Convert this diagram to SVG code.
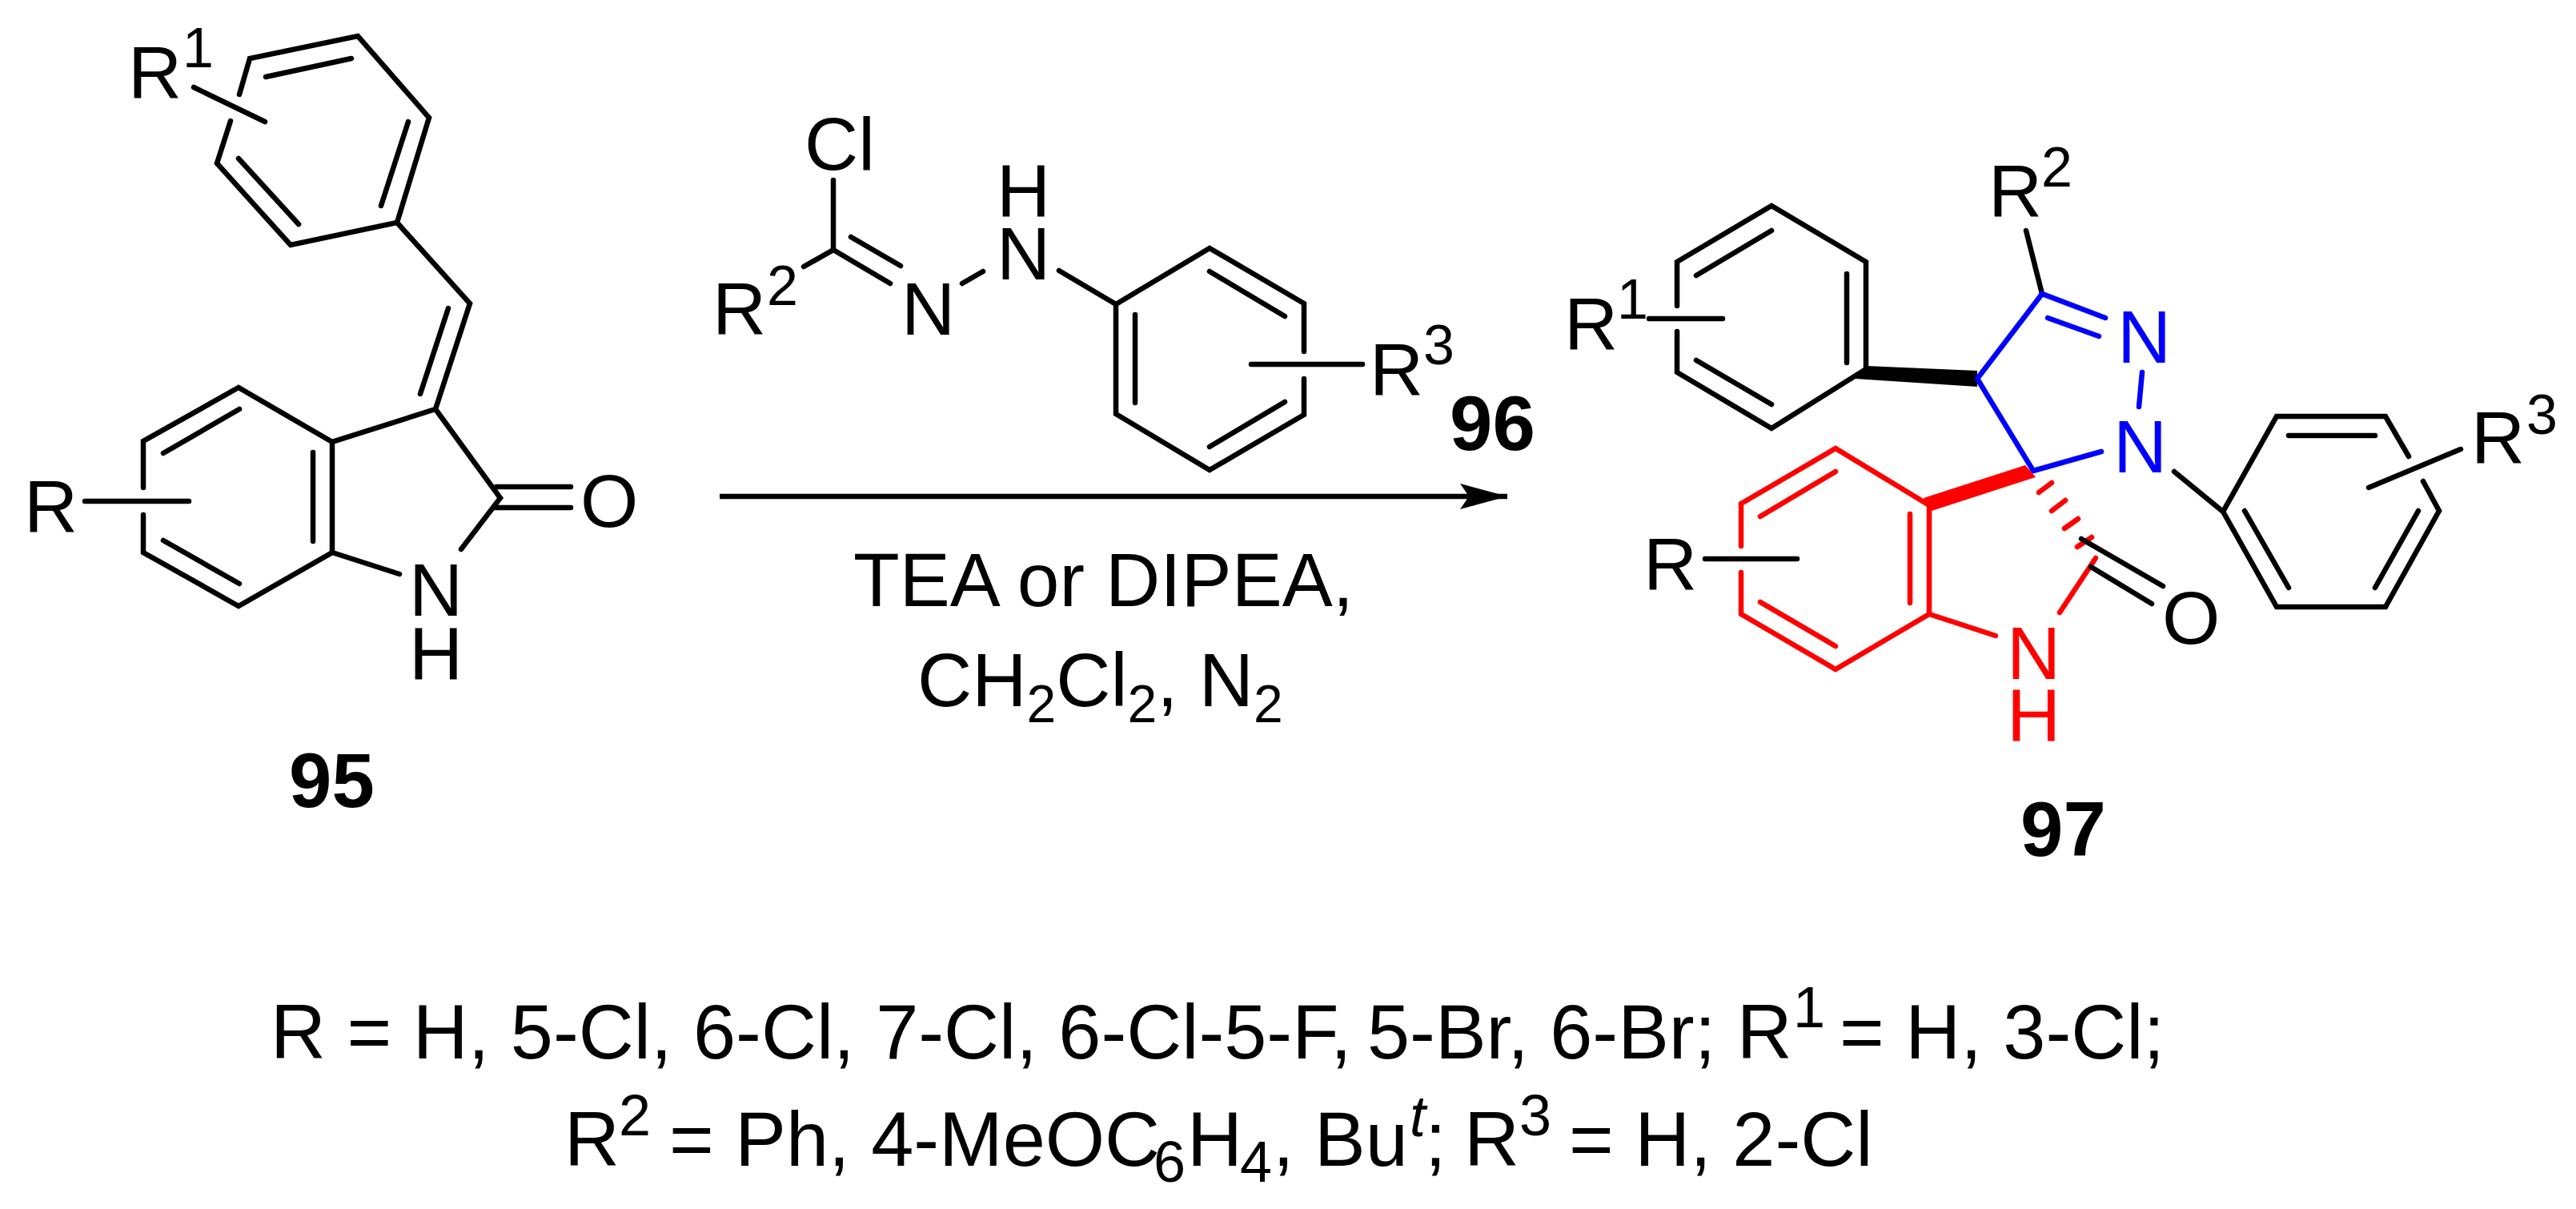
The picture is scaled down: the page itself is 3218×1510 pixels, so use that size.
<svg xmlns="http://www.w3.org/2000/svg" width="3218" height="1510" viewBox="0 0 3218 1510">
<style>
text{font-family:"Liberation Sans",Arial,sans-serif;font-size:93px;fill:#000}
.b{font-weight:bold;font-size:96px}
.s{font-size:70px}
.r{fill:#f00}.u{fill:#00f}
.l{font-size:95.5px}
.k{stroke:#000;stroke-width:6.5;fill:none;stroke-linecap:round;stroke-linejoin:miter}
.kr{stroke:#f00;stroke-width:6.5;fill:none;stroke-linecap:round}
.ku{stroke:#00f;stroke-width:6.5;fill:none;stroke-linecap:round}
</style>
<defs><marker id="ah" markerUnits="userSpaceOnUse" markerWidth="60" markerHeight="32" refX="59" refY="16" orient="auto"><path d="M0 0L59 16L0 32L11 16Z" fill="#000"/></marker></defs>
<rect width="3218" height="1510" fill="#fff"/>
<g id="connectors"><line x1="899" y1="620" x2="1883" y2="620" stroke="#000" stroke-width="6.5" marker-end="url(#ah)"/></g>
<g id="compound-95">
<path class="k" d="M299 118L312 73L447 45L536 147L496 278L363 306L271 204L288 151M332 96L439 73M510 152L476 257M373 280L298 198M242 109L331 152M496 278L587 379L544 511L415 552V690L298 757L179 690V643M179 609V551L298 484L415 552M525 492L560 385M204 566L299 511M391 565V676M204 675L299 729M544 511L625 622L576 686M415 690L499 717M106 626H236M620 608H713M619 634H713"/>
<text x="160" y="123">R</text><text class="s" x="228" y="84">1</text>
<text x="30" y="665">R</text><text x="725" y="658">O</text>
<text x="511" y="769">N</text><text x="511" y="849">H</text>
<text class="b" x="361" y="1008">95</text>
</g>
<g id="compound-96">
<path class="k" d="M1041 225V312L1004 333M1041 312L1112 354M1063 296L1125 332M1202 354L1228 339M1323 338L1394 380L1511 310L1629 379V439M1629 473V518L1511 587L1394 517V380M1511 339L1605 395M1418 393V503M1511 558L1605 502M1563 455H1702"/>
<text x="1005" y="212">Cl</text>
<text x="890" y="418">R</text><text class="s" x="958" y="381">2</text>
<text x="1126" y="418">N</text><text x="1245" y="349">N</text><text x="1245" y="271">H</text>
<text x="1711" y="494">R</text><text class="s" x="1778" y="455">3</text>
<text class="b" x="1811" y="562">96</text>
</g>
<g id="reagents">
<text x="1066" y="757" font-size="94.5" style="font-size:94.5px">TEA or DIPEA,</text>
<text x="1146" y="882" style="font-size:94.5px">CH<tspan style="font-size:66px" dy="20">2</tspan><tspan dy="-20">Cl</tspan><tspan style="font-size:66px" dy="20">2</tspan><tspan dy="-20">, N</tspan><tspan style="font-size:66px" dy="20">2</tspan></text>
</g>
<g id="compound-97">
<path class="k" d="M2095 382V327L2213 257L2331 327V461L2213 535L2095 465V414M2213 288L2119 344M2307 342V453M2213 505L2119 450M2060 398H2152"/>
<path d="M2317 473L2331 457L2470 463V483Z" fill="#000"/>
<path class="k" d="M2531 288L2551 367M2716 589L2777 639L2844 520H2980L3009 570M3027 601L3047 638L2980 758H2844L2777 639M2859 544H2967M3021 638L2967 734M2859 734L2804 638M2959 609L3074 561M2130 698H2245"/>
<path class="ku" d="M2470 473L2551 367L2630 397M2558 397L2622 420M2676 465L2672 508M2470 473L2540 588L2625 564"/>
<path class="kr" d="M2175 682V629L2293 560L2410 631V767L2293 836L2175 767V715M2293 589L2199 645M2386 642V753M2293 807L2199 752M2410 767L2493 794M2618 697L2573 765M2547 615L2563 603M2563 638L2580 625M2579 660L2596 648M2595 683L2613 671"/>
<path d="M2403 622L2410 639L2543 596L2530 581Z" fill="#f00"/>
<path class="k" d="M2600 673L2702 732M2612 708L2688 754"/>
<text x="1954" y="437">R</text><text class="s" x="2020" y="398">1</text>
<text x="2484" y="271">R</text><text class="s" x="2550" y="233">2</text>
<text class="u" x="2645" y="453">N</text><text class="u" x="2640" y="590">N</text>
<text x="3087" y="579">R</text><text class="s" x="3156" y="542">3</text>
<text x="2053" y="737">R</text>
<text x="2701" y="804">O</text>
<text class="r" x="2507" y="848">N</text><text class="r" x="2507" y="926">H</text>
<text class="b" x="2524" y="1069">97</text>
</g>
<g id="legend">
<text class="l" y="1322"><tspan x="338">R = H, 5-Cl, 6-Cl, 7-Cl, 6-Cl-5-F,</tspan><tspan x="1708">5-Br, 6-Br; R</tspan><tspan x="2240" y="1283" style="font-size:72px">1</tspan><tspan x="2298" y="1322">= H, 3-Cl;</tspan></text>
<text class="l" y="1456"><tspan x="705">R</tspan><tspan x="773" y="1418" style="font-size:72px">2</tspan><tspan x="836" y="1456">= Ph, 4-MeOC</tspan><tspan x="1441" y="1476" style="font-size:72px">6</tspan><tspan x="1483" y="1456">H</tspan><tspan x="1549" y="1476" style="font-size:72px">4</tspan><tspan x="1590" y="1456">,</tspan><tspan x="1642">Bu</tspan><tspan x="1761" y="1419" style="font-size:72px;font-style:italic">t</tspan><tspan x="1780" y="1456">;</tspan><tspan x="1829">R</tspan><tspan x="1898" y="1418" style="font-size:72px">3</tspan><tspan x="1960" y="1456">= H, 2-Cl</tspan></text>
</g>
</svg>
